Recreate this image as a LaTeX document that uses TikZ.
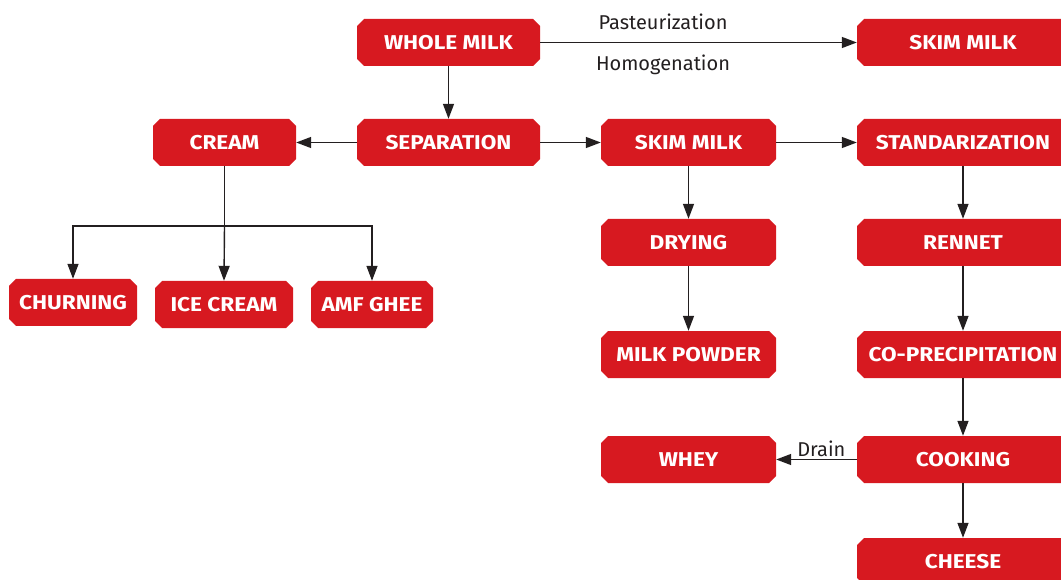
\documentclass[tikz,border=0pt]{standalone}
\usepackage{fontspec}
\setmainfont{Fira Sans}
\newfontfamily\boxfont[FakeStretch=1.13]{Fira Sans}
\usetikzlibrary{arrows.meta}
\definecolor{boxred}{HTML}{D71920}
\definecolor{ink}{HTML}{231F20}
\tikzset{
  boxtext/.style={rectangle, draw=none, inner sep=0pt, minimum height=47pt,
    text=white, font=\boxfont\bfseries\fontsize{20}{24}\selectfont},
  flow/.style={draw=ink, line width=1.4pt, -{Triangle[length=15pt,width=11pt]}},
  plain/.style={draw=ink, line width=1.4pt},
  lbl/.style={text=ink, font=\fontsize{20}{24}\selectfont, inner sep=0pt}
}
% chamfered red box: name, centre x, centre y, width, text
\newcommand\chbox[5]{%
  \fill[boxred] ({#2-#4/2+7},{#3-23.5}) -- ({#2+#4/2-7},{#3-23.5})
    -- ({#2+#4/2},{#3-16.5}) -- ({#2+#4/2},{#3+16.5})
    -- ({#2+#4/2-7},{#3+23.5}) -- ({#2-#4/2+7},{#3+23.5})
    -- ({#2-#4/2},{#3+16.5}) -- ({#2-#4/2},{#3-16.5}) -- cycle;
  \node[boxtext, minimum width=#4pt] (#1) at (#2,#3) {#5};%
}
\begin{document}
\begin{tikzpicture}[x=1pt,y=-1pt]
\useasboundingbox (0,0) rectangle (1061,580);
\begin{scope}
\clip (0,0) rectangle (1061,580);
% top row
\chbox{whole}{448.5}{42.5}{183}{WHOLE MILK}
\chbox{skimtop}{963}{42.5}{212}{SKIM MILK}
% second row
\chbox{sep}{448.5}{142.5}{183}{SEPARATION}
\chbox{cream}{224.5}{142.5}{143}{CREAM}
\chbox{skim}{688.5}{142.5}{175}{SKIM MILK}
\chbox{std}{963}{142.5}{212}{STANDARIZATION}
% cream products
\chbox{churn}{73}{302.5}{128}{CHURNING}
\chbox{ice}{224}{304.5}{138}{ICE CREAM}
\chbox{amf}{372}{304.5}{122}{AMF GHEE}
% skim milk branch
\chbox{dry}{688.5}{242.5}{175}{DRYING}
\chbox{powder}{688.5}{354.5}{175}{MILK POWDER}
\chbox{whey}{688.5}{459.5}{175}{WHEY}
% cheese branch
\chbox{rennet}{963}{242.5}{212}{RENNET}
\chbox{coprec}{963}{354.5}{212}{CO-PRECIPITATION}
\chbox{cook}{963}{459.5}{212}{COOKING}
\chbox{cheese}{963}{561.5}{212}{CHEESE}
\end{scope}

% connectors
\draw[flow] (whole.east) -- (skimtop.west)
  node[lbl, pos=0.388, anchor=base, yshift=13pt] (past) {Pasteurization}
  node[lbl, pos=0.388, anchor=base, yshift=-28pt] (homo) {Homogenation};
\draw[flow] (whole.south) -- (sep.north);
\draw[flow] (sep.west) -- (cream.east);
\draw[flow] (sep.east) -- (skim.west);
\draw[flow] (skim.east) -- (std.west);

\coordinate (split) at (224.5,226);
\draw[plain] (cream.south) -- (split);
\draw[flow] (split) -| (churn.north);
\draw[flow] (split) -| (amf.north);
\draw[flow] (split) -- (ice.north);

\draw[flow] (skim.south) -- (dry.north);
\draw[flow] (dry.south) -- (powder.north);

\draw[flow] (std.south) -- (rennet.north);
\draw[flow] (rennet.south) -- (coprec.north);
\draw[flow] (coprec.south) -- (cook.north);
\draw[flow] (cook.south) -- (cheese.north);
\draw[flow] (cook.west) -- (whey.east)
  node[lbl, pos=0.44, anchor=base, yshift=3pt] (drain) {Drain};
\end{tikzpicture}
\end{document}
